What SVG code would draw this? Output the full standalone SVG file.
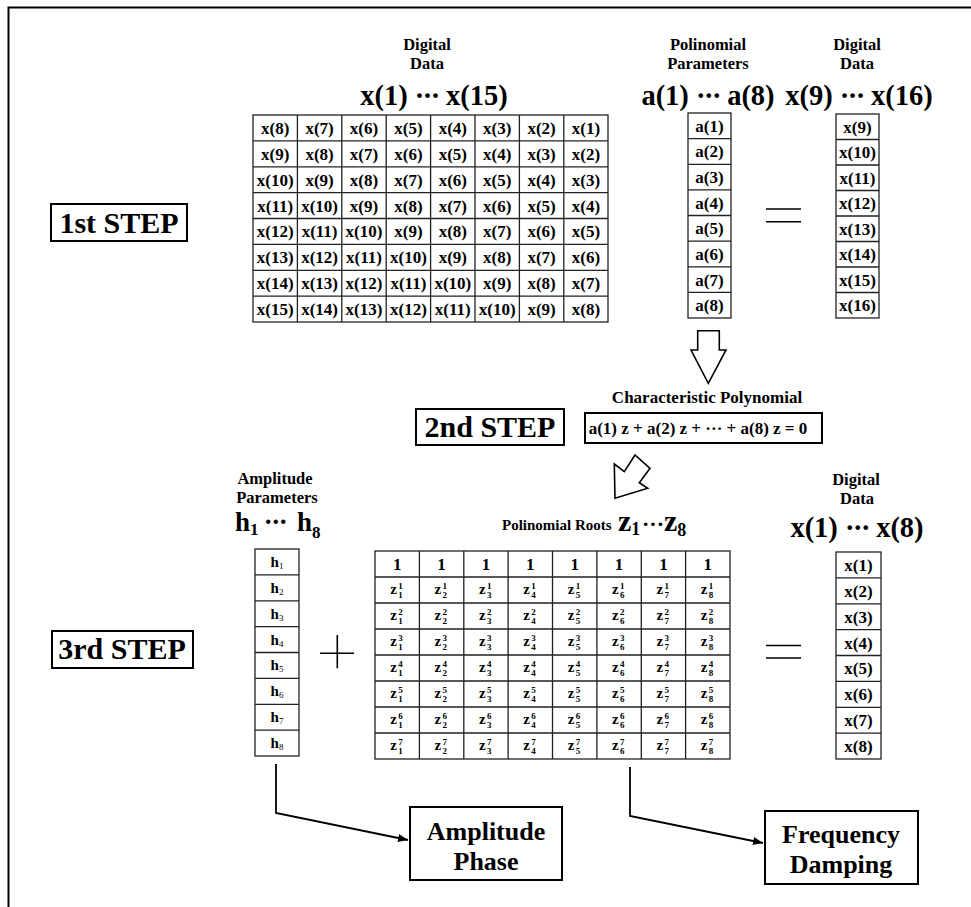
<svg xmlns="http://www.w3.org/2000/svg" width="971" height="907" viewBox="0 0 971 907">
<style>
text{font-family:"Liberation Serif","Times New Roman",serif;font-weight:bold;fill:#000}
.c{font-size:17px;text-anchor:middle}
.hd{font-size:16.5px;text-anchor:middle}
.big{font-size:28.5px;text-anchor:middle}
.dots{letter-spacing:-1.5px}
.step{font-size:30px;text-anchor:middle}
.res{font-size:26px;text-anchor:middle}
.z{font-size:15px}
.sp{font-size:9px}
.grid{fill:none;stroke:#222;stroke-width:1.3}
.box{fill:#fff;stroke:#000;stroke-width:2}
.ln{fill:none;stroke:#000;stroke-width:1.6}
.conn{fill:none;stroke:#000;stroke-width:1.8}
</style>
<defs>
<marker id="ah" viewBox="0 0 10 8" refX="10" refY="4" markerWidth="10" markerHeight="8" markerUnits="userSpaceOnUse" orient="auto">
<path d="M0,0 L10,4 L0,8 Z" fill="#000"/>
</marker>
</defs>
<rect width="971" height="907" fill="#fff"/>
<g id="frame">
<path d="M8.5,907 V7.5 H971" fill="none" stroke="#000" stroke-width="2"/>
</g>

<g id="step1">
<rect class="box" x="51" y="204" width="136" height="37"/>
<text class="step" x="119" y="233">1st STEP</text>
</g>
<g id="step2">
<rect class="box" x="416" y="409" width="148" height="36"/>
<text class="step" x="490" y="437">2nd STEP</text>
</g>
<g id="step3">
<rect class="box" x="52" y="631" width="141" height="37"/>
<text class="step" x="122" y="659">3rd STEP</text>
</g>

<g id="matrixX15">
<text class="hd" x="427" y="50">Digital</text>
<text class="hd" x="427" y="69">Data</text>
<text class="big" x="434" y="105">x(1) <tspan class="dots">···</tspan> x(15)</text>
<rect class="grid" x="253" y="115" width="355" height="207"/>
<path class="grid" d="M297.4,115V322M341.8,115V322M386.2,115V322M430.6,115V322M475,115V322M519.4,115V322M563.8,115V322M253,140.9H608M253,166.8H608M253,192.6H608M253,218.5H608M253,244.4H608M253,270.3H608M253,296.1H608"/>
<text class="c" x="275.2" y="134">x(8)</text><text class="c" x="319.6" y="134">x(7)</text><text class="c" x="364" y="134">x(6)</text><text class="c" x="408.4" y="134">x(5)</text><text class="c" x="452.8" y="134">x(4)</text><text class="c" x="497.2" y="134">x(3)</text><text class="c" x="541.6" y="134">x(2)</text><text class="c" x="586" y="134">x(1)</text>
<text class="c" x="275.2" y="160">x(9)</text><text class="c" x="319.6" y="160">x(8)</text><text class="c" x="364" y="160">x(7)</text><text class="c" x="408.4" y="160">x(6)</text><text class="c" x="452.8" y="160">x(5)</text><text class="c" x="497.2" y="160">x(4)</text><text class="c" x="541.6" y="160">x(3)</text><text class="c" x="586" y="160">x(2)</text>
<text class="c" x="275.2" y="186">x(10)</text><text class="c" x="319.6" y="186">x(9)</text><text class="c" x="364" y="186">x(8)</text><text class="c" x="408.4" y="186">x(7)</text><text class="c" x="452.8" y="186">x(6)</text><text class="c" x="497.2" y="186">x(5)</text><text class="c" x="541.6" y="186">x(4)</text><text class="c" x="586" y="186">x(3)</text>
<text class="c" x="275.2" y="212">x(11)</text><text class="c" x="319.6" y="212">x(10)</text><text class="c" x="364" y="212">x(9)</text><text class="c" x="408.4" y="212">x(8)</text><text class="c" x="452.8" y="212">x(7)</text><text class="c" x="497.2" y="212">x(6)</text><text class="c" x="541.6" y="212">x(5)</text><text class="c" x="586" y="212">x(4)</text>
<text class="c" x="275.2" y="237">x(12)</text><text class="c" x="319.6" y="237">x(11)</text><text class="c" x="364" y="237">x(10)</text><text class="c" x="408.4" y="237">x(9)</text><text class="c" x="452.8" y="237">x(8)</text><text class="c" x="497.2" y="237">x(7)</text><text class="c" x="541.6" y="237">x(6)</text><text class="c" x="586" y="237">x(5)</text>
<text class="c" x="275.2" y="263">x(13)</text><text class="c" x="319.6" y="263">x(12)</text><text class="c" x="364" y="263">x(11)</text><text class="c" x="408.4" y="263">x(10)</text><text class="c" x="452.8" y="263">x(9)</text><text class="c" x="497.2" y="263">x(8)</text><text class="c" x="541.6" y="263">x(7)</text><text class="c" x="586" y="263">x(6)</text>
<text class="c" x="275.2" y="289">x(14)</text><text class="c" x="319.6" y="289">x(13)</text><text class="c" x="364" y="289">x(12)</text><text class="c" x="408.4" y="289">x(11)</text><text class="c" x="452.8" y="289">x(10)</text><text class="c" x="497.2" y="289">x(9)</text><text class="c" x="541.6" y="289">x(8)</text><text class="c" x="586" y="289">x(7)</text>
<text class="c" x="275.2" y="315">x(15)</text><text class="c" x="319.6" y="315">x(14)</text><text class="c" x="364" y="315">x(13)</text><text class="c" x="408.4" y="315">x(12)</text><text class="c" x="452.8" y="315">x(11)</text><text class="c" x="497.2" y="315">x(10)</text><text class="c" x="541.6" y="315">x(9)</text><text class="c" x="586" y="315">x(8)</text>
</g>

<g id="colA">
<text class="hd" x="708" y="50">Polinomial</text>
<text class="hd" x="708" y="69">Parameters</text>
<text class="big" x="708" y="105">a(1) <tspan class="dots">···</tspan> a(8)</text>
<rect class="grid" x="688" y="113" width="43" height="205"/>
<path class="grid" d="M688,138.6H731M688,164.3H731M688,189.9H731M688,215.5H731M688,241.1H731M688,266.8H731M688,292.4H731"/>
<text class="c" x="709.5" y="131.8">a(1)</text>
<text class="c" x="709.5" y="157.4">a(2)</text>
<text class="c" x="709.5" y="183">a(3)</text>
<text class="c" x="709.5" y="208.7">a(4)</text>
<text class="c" x="709.5" y="234.3">a(5)</text>
<text class="c" x="709.5" y="259.9">a(6)</text>
<text class="c" x="709.5" y="285.5">a(7)</text>
<text class="c" x="709.5" y="311.2">a(8)</text>
</g>

<g id="eq1">
<path class="ln" d="M766,209H801M766,221.7H801"/>
</g>

<g id="colX16">
<text class="hd" x="857" y="50">Digital</text>
<text class="hd" x="857" y="69">Data</text>
<text class="big" x="859" y="105">x(9) <tspan class="dots">···</tspan> x(16)</text>
<rect class="grid" x="836" y="114" width="43" height="204"/>
<path class="grid" d="M836,139.5H879M836,165H879M836,190.5H879M836,216H879M836,241.5H879M836,267H879M836,292.5H879"/>
<text class="c" x="857.5" y="132.8">x(9)</text>
<text class="c" x="857.5" y="158.3">x(10)</text>
<text class="c" x="857.5" y="183.8">x(11)</text>
<text class="c" x="857.5" y="209.3">x(12)</text>
<text class="c" x="857.5" y="234.8">x(13)</text>
<text class="c" x="857.5" y="260.3">x(14)</text>
<text class="c" x="857.5" y="285.8">x(15)</text>
<text class="c" x="857.5" y="311.3">x(16)</text>
</g>

<g id="arrowDown">
<path d="M697.7,330.7 H719.3 V350 H726 L708.3,383.3 L691,350 H697.7 Z" fill="#fff" stroke="#000" stroke-width="1.6" stroke-linejoin="miter"/>
</g>

<g id="charPoly">
<text class="hd" style="font-size:17px" x="707" y="403">Characteristic Polynomial</text>
<rect class="box" x="585" y="413" width="237" height="30"/>
<text class="c" x="698" y="434">a(1) z + a(2) z + ··· + a(8) z = 0</text>
</g>

<g id="arrowDiag">
<path d="M615,498.3 L614.3,464 L624.3,471.7 L635,455 L650,468.3 L639.3,482.7 L647.7,488.3 Z" fill="#fff" stroke="#000" stroke-width="1.6"/>
</g>

<g id="colH">
<text class="hd" x="275" y="484">Amplitude</text>
<text class="hd" x="277" y="503">Parameters</text>
<text style="font-size:27px" x="235" y="531">h<tspan style="font-size:17px" dy="4">1</tspan><tspan class="dots" dy="-4"> ··· </tspan><tspan x="297">h</tspan><tspan style="font-size:17px" dy="7">8</tspan></text>
<rect class="grid" x="255" y="549" width="44" height="207"/>
<path class="grid" d="M255,574.9H299M255,600.8H299M255,626.6H299M255,652.5H299M255,678.4H299M255,704.3H299M255,730.1H299"/>
<text class="c" style="font-size:15px" x="277" y="566.9">h<tspan style="font-size:9px;font-weight:normal" dy="2">1</tspan></text>
<text class="c" style="font-size:15px" x="277" y="592.8">h<tspan style="font-size:9px;font-weight:normal" dy="2">2</tspan></text>
<text class="c" style="font-size:15px" x="277" y="618.7">h<tspan style="font-size:9px;font-weight:normal" dy="2">3</tspan></text>
<text class="c" style="font-size:15px" x="277" y="644.6">h<tspan style="font-size:9px;font-weight:normal" dy="2">4</tspan></text>
<text class="c" style="font-size:15px" x="277" y="670.4">h<tspan style="font-size:9px;font-weight:normal" dy="2">5</tspan></text>
<text class="c" style="font-size:15px" x="277" y="696.3">h<tspan style="font-size:9px;font-weight:normal" dy="2">6</tspan></text>
<text class="c" style="font-size:15px" x="277" y="722.2">h<tspan style="font-size:9px;font-weight:normal" dy="2">7</tspan></text>
<text class="c" style="font-size:15px" x="277" y="748.1">h<tspan style="font-size:9px;font-weight:normal" dy="2">8</tspan></text>
</g>

<g id="plus">
<path class="ln" d="M320,653.3H354M337.3,635V668.3"/>
</g>

<g id="matrixZ">
<text style="font-size:15px" x="502" y="530">Polinomial Roots</text>
<text style="font-size:30px" x="618" y="531">z<tspan style="font-size:18px" dy="4">1</tspan><tspan style="font-size:22px" x="642" dy="-4">···</tspan><tspan x="664">z</tspan><tspan style="font-size:18px" dy="5">8</tspan></text>
<rect class="grid" x="375" y="551" width="355" height="208"/>
<path class="grid" d="M419.4,551V759M463.8,551V759M508.1,551V759M552.5,551V759M596.9,551V759M641.3,551V759M685.6,551V759M375,577H730M375,603H730M375,629H730M375,655H730M375,681H730M375,707H730M375,733H730"/>
<text class="c" x="397.2" y="570">1</text><text class="c" x="441.6" y="570">1</text><text class="c" x="486" y="570">1</text><text class="c" x="530.3" y="570">1</text><text class="c" x="574.7" y="570">1</text><text class="c" x="619.1" y="570">1</text><text class="c" x="663.4" y="570">1</text><text class="c" x="707.8" y="570">1</text>

<text class="z" x="390.2" y="594">z<tspan class="sp" x="398.2" dy="-5">1</tspan><tspan class="sp" x="398.2" dy="9">1</tspan></text>
<text class="z" x="434.6" y="594">z<tspan class="sp" x="442.6" dy="-5">1</tspan><tspan class="sp" x="442.6" dy="9">2</tspan></text>
<text class="z" x="479" y="594">z<tspan class="sp" x="487" dy="-5">1</tspan><tspan class="sp" x="487" dy="9">3</tspan></text>
<text class="z" x="523.3" y="594">z<tspan class="sp" x="531.3" dy="-5">1</tspan><tspan class="sp" x="531.3" dy="9">4</tspan></text>
<text class="z" x="567.7" y="594">z<tspan class="sp" x="575.7" dy="-5">1</tspan><tspan class="sp" x="575.7" dy="9">5</tspan></text>
<text class="z" x="612.1" y="594">z<tspan class="sp" x="620.1" dy="-5">1</tspan><tspan class="sp" x="620.1" dy="9">6</tspan></text>
<text class="z" x="656.4" y="594">z<tspan class="sp" x="664.4" dy="-5">1</tspan><tspan class="sp" x="664.4" dy="9">7</tspan></text>
<text class="z" x="700.8" y="594">z<tspan class="sp" x="708.8" dy="-5">1</tspan><tspan class="sp" x="708.8" dy="9">8</tspan></text>

<text class="z" x="390.2" y="620">z<tspan class="sp" x="398.2" dy="-5">2</tspan><tspan class="sp" x="398.2" dy="9">1</tspan></text>
<text class="z" x="434.6" y="620">z<tspan class="sp" x="442.6" dy="-5">2</tspan><tspan class="sp" x="442.6" dy="9">2</tspan></text>
<text class="z" x="479" y="620">z<tspan class="sp" x="487" dy="-5">2</tspan><tspan class="sp" x="487" dy="9">3</tspan></text>
<text class="z" x="523.3" y="620">z<tspan class="sp" x="531.3" dy="-5">2</tspan><tspan class="sp" x="531.3" dy="9">4</tspan></text>
<text class="z" x="567.7" y="620">z<tspan class="sp" x="575.7" dy="-5">2</tspan><tspan class="sp" x="575.7" dy="9">5</tspan></text>
<text class="z" x="612.1" y="620">z<tspan class="sp" x="620.1" dy="-5">2</tspan><tspan class="sp" x="620.1" dy="9">6</tspan></text>
<text class="z" x="656.4" y="620">z<tspan class="sp" x="664.4" dy="-5">2</tspan><tspan class="sp" x="664.4" dy="9">7</tspan></text>
<text class="z" x="700.8" y="620">z<tspan class="sp" x="708.8" dy="-5">2</tspan><tspan class="sp" x="708.8" dy="9">8</tspan></text>

<text class="z" x="390.2" y="646">z<tspan class="sp" x="398.2" dy="-5">3</tspan><tspan class="sp" x="398.2" dy="9">1</tspan></text>
<text class="z" x="434.6" y="646">z<tspan class="sp" x="442.6" dy="-5">3</tspan><tspan class="sp" x="442.6" dy="9">2</tspan></text>
<text class="z" x="479" y="646">z<tspan class="sp" x="487" dy="-5">3</tspan><tspan class="sp" x="487" dy="9">3</tspan></text>
<text class="z" x="523.3" y="646">z<tspan class="sp" x="531.3" dy="-5">3</tspan><tspan class="sp" x="531.3" dy="9">4</tspan></text>
<text class="z" x="567.7" y="646">z<tspan class="sp" x="575.7" dy="-5">3</tspan><tspan class="sp" x="575.7" dy="9">5</tspan></text>
<text class="z" x="612.1" y="646">z<tspan class="sp" x="620.1" dy="-5">3</tspan><tspan class="sp" x="620.1" dy="9">6</tspan></text>
<text class="z" x="656.4" y="646">z<tspan class="sp" x="664.4" dy="-5">3</tspan><tspan class="sp" x="664.4" dy="9">7</tspan></text>
<text class="z" x="700.8" y="646">z<tspan class="sp" x="708.8" dy="-5">3</tspan><tspan class="sp" x="708.8" dy="9">8</tspan></text>

<text class="z" x="390.2" y="672">z<tspan class="sp" x="398.2" dy="-5">4</tspan><tspan class="sp" x="398.2" dy="9">1</tspan></text>
<text class="z" x="434.6" y="672">z<tspan class="sp" x="442.6" dy="-5">4</tspan><tspan class="sp" x="442.6" dy="9">2</tspan></text>
<text class="z" x="479" y="672">z<tspan class="sp" x="487" dy="-5">4</tspan><tspan class="sp" x="487" dy="9">3</tspan></text>
<text class="z" x="523.3" y="672">z<tspan class="sp" x="531.3" dy="-5">4</tspan><tspan class="sp" x="531.3" dy="9">4</tspan></text>
<text class="z" x="567.7" y="672">z<tspan class="sp" x="575.7" dy="-5">4</tspan><tspan class="sp" x="575.7" dy="9">5</tspan></text>
<text class="z" x="612.1" y="672">z<tspan class="sp" x="620.1" dy="-5">4</tspan><tspan class="sp" x="620.1" dy="9">6</tspan></text>
<text class="z" x="656.4" y="672">z<tspan class="sp" x="664.4" dy="-5">4</tspan><tspan class="sp" x="664.4" dy="9">7</tspan></text>
<text class="z" x="700.8" y="672">z<tspan class="sp" x="708.8" dy="-5">4</tspan><tspan class="sp" x="708.8" dy="9">8</tspan></text>

<text class="z" x="390.2" y="698">z<tspan class="sp" x="398.2" dy="-5">5</tspan><tspan class="sp" x="398.2" dy="9">1</tspan></text>
<text class="z" x="434.6" y="698">z<tspan class="sp" x="442.6" dy="-5">5</tspan><tspan class="sp" x="442.6" dy="9">2</tspan></text>
<text class="z" x="479" y="698">z<tspan class="sp" x="487" dy="-5">5</tspan><tspan class="sp" x="487" dy="9">3</tspan></text>
<text class="z" x="523.3" y="698">z<tspan class="sp" x="531.3" dy="-5">5</tspan><tspan class="sp" x="531.3" dy="9">4</tspan></text>
<text class="z" x="567.7" y="698">z<tspan class="sp" x="575.7" dy="-5">5</tspan><tspan class="sp" x="575.7" dy="9">5</tspan></text>
<text class="z" x="612.1" y="698">z<tspan class="sp" x="620.1" dy="-5">5</tspan><tspan class="sp" x="620.1" dy="9">6</tspan></text>
<text class="z" x="656.4" y="698">z<tspan class="sp" x="664.4" dy="-5">5</tspan><tspan class="sp" x="664.4" dy="9">7</tspan></text>
<text class="z" x="700.8" y="698">z<tspan class="sp" x="708.8" dy="-5">5</tspan><tspan class="sp" x="708.8" dy="9">8</tspan></text>

<text class="z" x="390.2" y="724">z<tspan class="sp" x="398.2" dy="-5">6</tspan><tspan class="sp" x="398.2" dy="9">1</tspan></text>
<text class="z" x="434.6" y="724">z<tspan class="sp" x="442.6" dy="-5">6</tspan><tspan class="sp" x="442.6" dy="9">2</tspan></text>
<text class="z" x="479" y="724">z<tspan class="sp" x="487" dy="-5">6</tspan><tspan class="sp" x="487" dy="9">3</tspan></text>
<text class="z" x="523.3" y="724">z<tspan class="sp" x="531.3" dy="-5">6</tspan><tspan class="sp" x="531.3" dy="9">4</tspan></text>
<text class="z" x="567.7" y="724">z<tspan class="sp" x="575.7" dy="-5">6</tspan><tspan class="sp" x="575.7" dy="9">5</tspan></text>
<text class="z" x="612.1" y="724">z<tspan class="sp" x="620.1" dy="-5">6</tspan><tspan class="sp" x="620.1" dy="9">6</tspan></text>
<text class="z" x="656.4" y="724">z<tspan class="sp" x="664.4" dy="-5">6</tspan><tspan class="sp" x="664.4" dy="9">7</tspan></text>
<text class="z" x="700.8" y="724">z<tspan class="sp" x="708.8" dy="-5">6</tspan><tspan class="sp" x="708.8" dy="9">8</tspan></text>

<text class="z" x="390.2" y="750">z<tspan class="sp" x="398.2" dy="-5">7</tspan><tspan class="sp" x="398.2" dy="9">1</tspan></text>
<text class="z" x="434.6" y="750">z<tspan class="sp" x="442.6" dy="-5">7</tspan><tspan class="sp" x="442.6" dy="9">2</tspan></text>
<text class="z" x="479" y="750">z<tspan class="sp" x="487" dy="-5">7</tspan><tspan class="sp" x="487" dy="9">3</tspan></text>
<text class="z" x="523.3" y="750">z<tspan class="sp" x="531.3" dy="-5">7</tspan><tspan class="sp" x="531.3" dy="9">4</tspan></text>
<text class="z" x="567.7" y="750">z<tspan class="sp" x="575.7" dy="-5">7</tspan><tspan class="sp" x="575.7" dy="9">5</tspan></text>
<text class="z" x="612.1" y="750">z<tspan class="sp" x="620.1" dy="-5">7</tspan><tspan class="sp" x="620.1" dy="9">6</tspan></text>
<text class="z" x="656.4" y="750">z<tspan class="sp" x="664.4" dy="-5">7</tspan><tspan class="sp" x="664.4" dy="9">7</tspan></text>
<text class="z" x="700.8" y="750">z<tspan class="sp" x="708.8" dy="-5">7</tspan><tspan class="sp" x="708.8" dy="9">8</tspan></text>
</g>

<g id="eq2">
<path class="ln" d="M766,645.5H801M766,658H801"/>
</g>

<g id="colX8">
<text class="hd" x="856" y="485">Digital</text>
<text class="hd" x="857" y="504">Data</text>
<text class="big" x="857" y="537">x(1) <tspan class="dots">···</tspan> x(8)</text>
<rect class="grid" x="836" y="552" width="45" height="207"/>
<path class="grid" d="M836,577.9H881M836,603.8H881M836,629.6H881M836,655.5H881M836,681.4H881M836,707.3H881M836,733.1H881"/>
<text class="c" x="858.5" y="570.9">x(1)</text>
<text class="c" x="858.5" y="596.8">x(2)</text>
<text class="c" x="858.5" y="622.7">x(3)</text>
<text class="c" x="858.5" y="648.6">x(4)</text>
<text class="c" x="858.5" y="674.4">x(5)</text>
<text class="c" x="858.5" y="700.3">x(6)</text>
<text class="c" x="858.5" y="726.2">x(7)</text>
<text class="c" x="858.5" y="752.1">x(8)</text>
</g>

<g id="boxAmplitude">
<rect class="box" x="410" y="807" width="152" height="73"/>
<text class="res" x="486" y="840">Amplitude</text>
<text class="res" x="486" y="870">Phase</text>
</g>
<g id="boxFrequency">
<rect class="box" x="765" y="811" width="153" height="73"/>
<text class="res" x="841" y="843">Frequency</text>
<text class="res" x="841" y="873">Damping</text>
</g>

<g id="connectors">
<path class="conn" d="M276,764 V813 L408,840" marker-end="url(#ah)"/>
<path class="conn" d="M630,767 V816 L763,843" marker-end="url(#ah)"/>
</g>
</svg>
